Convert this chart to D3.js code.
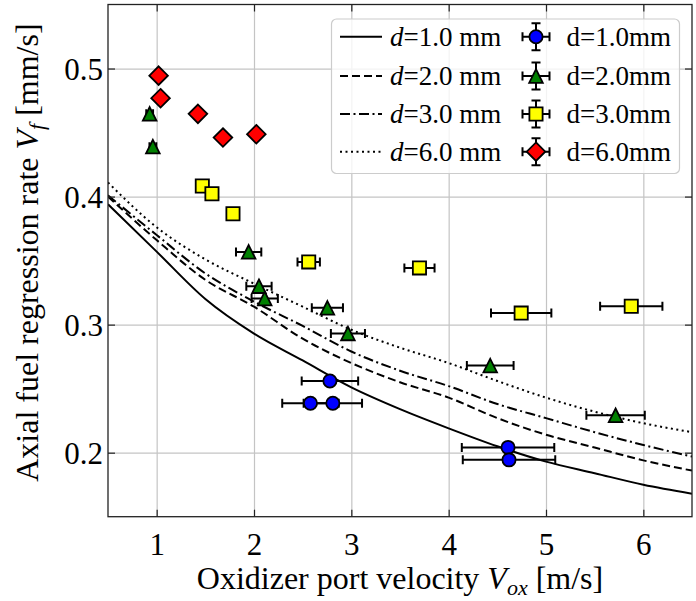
<!DOCTYPE html>
<html>
<head>
<meta charset="utf-8">
<script src="https://cdn.jsdelivr.net/npm/d3@7"></script>
<style>
  body { margin: 0; background: #fff; }
  text { font-family: "Liberation Serif", "Times New Roman", serif; fill: #000; }
</style>
</head>
<body>
<script>
// model curves
var curveX = [0.5, 1, 1.5, 2, 2.5, 3, 3.5, 4, 4.5, 5, 5.5, 6, 6.5];
var curveD1 = [0.394, 0.357, 0.320, 0.293, 0.272, 0.251, 0.234, 0.219, 0.205, 0.193, 0.184, 0.175, 0.168];
var curveD2 = [0.400, 0.366, 0.335, 0.314, 0.289, 0.270, 0.255, 0.243, 0.227, 0.214, 0.204, 0.194, 0.186];
var curveD3 = [0.401, 0.370, 0.340, 0.318, 0.299, 0.279, 0.264, 0.252, 0.238, 0.227, 0.216, 0.206, 0.197];
var curveD6 = [0.411, 0.376, 0.351, 0.332, 0.314, 0.296, 0.282, 0.270, 0.256, 0.243, 0.232, 0.223, 0.216];

// measured points: Vox, Vf, xerr
var vox1 = [2.78, 2.58, 2.81, 4.61, 4.62];
var vf1 = [0.256, 0.2386, 0.2386, 0.2041, 0.1944];
var err1 = [0.29, 0.29, 0.30, 0.475, 0.475];

var vox2 = [0.928, 0.961, 1.945, 2.051, 2.11, 2.754, 2.965, 4.427, 5.715];
var vf2 = [0.4646, 0.439, 0.3568, 0.330, 0.3204, 0.3131, 0.2931, 0.268, 0.2292];
var err2 = [0.035, 0.035, 0.13, 0.13, 0.135, 0.16, 0.175, 0.24, 0.30];

var vox3 = [1.469, 1.568, 1.784, 2.562, 3.70, 4.745, 5.876];
var vf3 = [0.4082, 0.4022, 0.3866, 0.349, 0.3443, 0.309, 0.3143];
var err3 = [0.04, 0.04, 0.04, 0.115, 0.155, 0.31, 0.32];

var vox6 = [1.02, 1.04, 1.424, 1.681, 2.024];
var vf6 = [0.4944, 0.4768, 0.4646, 0.4461, 0.4487];
var err6 = [0.03, 0.03, 0.03, 0.03, 0.03];

var xTicks = [1, 2, 3, 4, 5, 6];
var yTicks = [0.2, 0.3, 0.4, 0.5];
var lineLabels = ["1.0", "2.0", "3.0", "6.0"];
var pointLabels = ["d=1.0mm", "d=2.0mm", "d=3.0mm", "d=6.0mm"];

var width = 696;
var height = 601;
var plot = { left: 108, right: 692, top: 4.5, bottom: 516.7 };

var svg = d3.select("body")
    .append("svg")
    .attr("width", width)
    .attr("height", height);

var xScale = d3.scaleLinear()
    .domain([0.5, 6.5])
    .range([plot.left, plot.right]);

var yScale = d3.scaleLinear()
    .domain([0.15, 0.55])
    .range([plot.bottom, plot.top]);

svg.append("defs").append("clipPath")
    .attr("id", "clip")
    .append("rect")
    .attr("x", plot.left)
    .attr("y", plot.top)
    .attr("width", plot.right - plot.left)
    .attr("height", plot.bottom - plot.top);

//网格
svg.append("g")
    .attr("transform", "translate(0," + plot.bottom + ")")
    .call(d3.axisBottom(xScale).tickValues(xTicks).tickSize(-(plot.bottom - plot.top)).tickFormat(""))
    .call(g => g.select(".domain").remove())
    .call(g => g.selectAll("line").attr("stroke", "#c4c4c4").attr("stroke-width", 1.2));

svg.append("g")
    .attr("transform", "translate(" + plot.left + ",0)")
    .call(d3.axisLeft(yScale).tickValues(yTicks).tickSize(-(plot.right - plot.left)).tickFormat(""))
    .call(g => g.select(".domain").remove())
    .call(g => g.selectAll("line").attr("stroke", "#c4c4c4").attr("stroke-width", 1.2));

// model lines
var styles = [
    { ys: curveD1, dash: null },
    { ys: curveD2, dash: "8,4" },
    { ys: curveD3, dash: "10,3.5,2,3.5" },
    { ys: curveD6, dash: "2,3.5" }
];

var line = d3.line()
    .x(d => xScale(d[0]))
    .y(d => yScale(d[1]))
    .curve(d3.curveMonotoneX);

svg.append("g")
    .attr("clip-path", "url(#clip)")
    .selectAll("path")
    .data(styles)
    .enter()
    .append("path")
    .attr("d", s => line(curveX.map((v, i) => [v, s.ys[i]])))
    .attr("fill", "none")
    .attr("stroke", "#000")
    .attr("stroke-width", 2)
    .attr("stroke-dasharray", s => s.dash);

// marker shapes
function markerPath(type) {
    if (type == "circle") return d3.symbol(d3.symbolCircle, Math.PI * 6.6 * 6.6)();
    if (type == "square") return "M-6.6,-6.6H6.6V6.6H-6.6Z";
    if (type == "triangle") return "M0,-6.8L6.8,6.8H-6.8Z";
    return "M0,-9.3L9.3,0L0,9.3L-9.3,0Z";
}

var series = [
    { x: vox1, y: vf1, e: err1, color: "#0000ff", shape: "circle" },
    { x: vox2, y: vf2, e: err2, color: "#008000", shape: "triangle" },
    { x: vox3, y: vf3, e: err3, color: "#ffff00", shape: "square" },
    { x: vox6, y: vf6, e: err6, color: "#ff0000", shape: "diamond" }
];

series.forEach(function(s) {
    var g = svg.append("g");
    s.x.forEach(function(v, i) {
        var cy = yScale(s.y[i]);
        var x0 = xScale(v - s.e[i]), x1 = xScale(v + s.e[i]);
        g.append("path")
            .attr("d", "M" + x0 + "," + cy + "H" + x1 + "M" + x0 + "," + (cy - 4.5) + "V" + (cy + 4.5) + "M" + x1 + "," + (cy - 4.5) + "V" + (cy + 4.5))
            .attr("stroke", "#000")
            .attr("stroke-width", 2)
            .attr("fill", "none");
    });
    s.x.forEach(function(v, i) {
        g.append("path")
            .attr("d", markerPath(s.shape))
            .attr("transform", "translate(" + xScale(v) + "," + yScale(s.y[i]) + ")")
            .attr("fill", s.color)
            .attr("stroke", "#000")
            .attr("stroke-width", 1.8);
    });
});

// axes, ticks inward on all four sides
function styleAxis(g) {
    g.select(".domain").remove();
    g.selectAll("line").attr("stroke", "#222").attr("stroke-width", 1.2);
    g.selectAll("text").attr("font-size", "31px").attr("font-family", "Liberation Serif");
}

svg.append("g")
    .attr("transform", "translate(0," + plot.bottom + ")")
    .call(d3.axisBottom(xScale).tickValues(xTicks).tickSizeInner(-7).tickSizeOuter(0).tickPadding(16).tickFormat(d3.format("d")))
    .call(styleAxis);

svg.append("g")
    .attr("transform", "translate(" + plot.left + ",0)")
    .call(d3.axisLeft(yScale).tickValues(yTicks).tickSizeInner(-7).tickSizeOuter(0).tickPadding(5).tickFormat(d3.format(".1f")))
    .call(styleAxis)
    .call(g => g.selectAll("text").attr("dy", "0.35em"));

svg.append("g")
    .attr("transform", "translate(0," + plot.top + ")")
    .call(d3.axisTop(xScale).tickValues(xTicks).tickSizeInner(-7).tickSizeOuter(0).tickFormat(""))
    .call(styleAxis);

svg.append("g")
    .attr("transform", "translate(" + plot.right + ",0)")
    .call(d3.axisRight(yScale).tickValues(yTicks).tickSizeInner(-7).tickSizeOuter(0).tickFormat(""))
    .call(styleAxis);

svg.append("rect")
    .attr("x", plot.left)
    .attr("y", plot.top)
    .attr("width", plot.right - plot.left)
    .attr("height", plot.bottom - plot.top)
    .attr("fill", "none")
    .attr("stroke", "#222")
    .attr("stroke-width", 1.3);

// axis labels
var xl = svg.append("text")
    .attr("x", (plot.left + plot.right) / 2)
    .attr("y", 589)
    .attr("text-anchor", "middle")
    .attr("font-size", "32px");
xl.append("tspan").text("Oxidizer port velocity ");
xl.append("tspan").attr("font-style", "italic").text("V");
xl.append("tspan").attr("font-style", "italic").attr("font-size", "22px").attr("dy", 6).text("ox");
xl.append("tspan").attr("dy", -6).text(" [m/s]");

var yl = svg.append("text")
    .attr("transform", "translate(38," + ((plot.top + plot.bottom) / 2 - 8) + ") rotate(-90)")
    .attr("text-anchor", "middle")
    .attr("font-size", "32px");
yl.append("tspan").text("Axial fuel regression rate ");
yl.append("tspan").attr("font-style", "italic").text("V");
yl.append("tspan").attr("font-style", "italic").attr("font-size", "22px").attr("dy", 6).text("f");
yl.append("tspan").attr("dy", -6).text(" [mm/s]");

// legend
var legend = svg.append("g");
legend.append("rect")
    .attr("x", 331.5)
    .attr("y", 19)
    .attr("width", 348)
    .attr("height", 154.5)
    .attr("rx", 5)
    .attr("fill", "#fff")
    .attr("fill-opacity", 0.8)
    .attr("stroke", "#cccccc")
    .attr("stroke-width", 1.2);

var rowY = [36.7, 76, 114, 151.7];

styles.forEach(function(s, i) {
    legend.append("line")
        .attr("x1", 340).attr("x2", 382)
        .attr("y1", rowY[i]).attr("y2", rowY[i])
        .attr("stroke", "#000")
        .attr("stroke-width", 2)
        .attr("stroke-dasharray", s.dash);
    var t = legend.append("text")
        .attr("x", 390)
        .attr("y", rowY[i] + 9)
        .attr("font-size", "27px");
    t.append("tspan").attr("font-style", "italic").text("d");
    t.append("tspan").text("=" + lineLabels[i] + " mm");
});

series.forEach(function(s, i) {
    var cx = 536, cy = rowY[i];
    legend.append("path")
        .attr("d", "M" + (cx - 13.5) + "," + cy + "H" + (cx + 13.5) +
            "M" + (cx - 13.5) + "," + (cy - 4.5) + "V" + (cy + 4.5) +
            "M" + (cx + 13.5) + "," + (cy - 4.5) + "V" + (cy + 4.5) +
            "M" + cx + "," + (cy - 13.5) + "V" + (cy + 13.5) +
            "M" + (cx - 4.5) + "," + (cy - 13.5) + "H" + (cx + 4.5) +
            "M" + (cx - 4.5) + "," + (cy + 13.5) + "H" + (cx + 4.5))
        .attr("stroke", "#000")
        .attr("stroke-width", 2)
        .attr("fill", "none");
    legend.append("path")
        .attr("d", markerPath(s.shape))
        .attr("transform", "translate(" + cx + "," + cy + ")")
        .attr("fill", s.color)
        .attr("stroke", "#000")
        .attr("stroke-width", 1.8);
    legend.append("text")
        .attr("x", 566.5)
        .attr("y", cy + 9)
        .attr("font-size", "27px")
        .text(pointLabels[i]);
});
</script>
</body>
</html>
